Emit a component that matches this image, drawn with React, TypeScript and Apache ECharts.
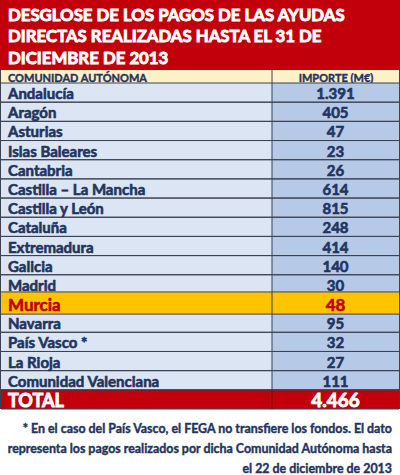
import React, { useEffect, useRef } from "react";
import * as echarts from "echarts";

const titleLines = [
  "DESGLOSE DE LOS PAGOS DE LAS AYUDAS",
  "DIRECTAS REALIZADAS HASTA EL 31 DE",
  "DICIEMBRE DE 2013",
];
const headerLabels = ["COMUNIDAD AUTÓNOMA", "IMPORTE (M€)"];
const regions = [
  "Andalucía",
  "Aragón",
  "Asturias",
  "Islas Baleares",
  "Cantabria",
  "Castilla – La Mancha",
  "Castilla y León",
  "Cataluña",
  "Extremadura",
  "Galicia",
  "Madrid",
  "Murcia",
  "Navarra",
  "País Vasco *",
  "La Rioja",
  "Comunidad Valenciana",
];
const amounts = [1391, 405, 47, 23, 26, 614, 815, 248, 414, 140, 30, 48, 95, 32, 27, 111];
const totalLabel = "TOTAL";
const totalAmount = 4466;
const highlighted = "Murcia";
const footnoteLines = [
  "* En el caso del País Vasco, el FEGA no transfiere los fondos. El dato",
  "representa los pagos realizados por dicha Comunidad Autónoma hasta",
  "el 22 de diciembre de 2013",
];

const RED = "#c2000b";
const NAVY = "#1f3560";
const LEFT_BG = "#dce5f3";
const RIGHT_BG = "#b6c9e7";
const HEAD_BG = "#fdf1c8";
const GOLD = "#fec400";
const LINE = "#3c4250";
const FONT = "Lato, 'Open Sans', sans-serif";

function fmt(n: number): string {
  return String(n).replace(/\B(?=(\d{3})+(?!\d))/g, ".");
}

function heavy(color: string, size: number, lw: number) {
  return {
    fill: color,
    stroke: color,
    lineWidth: lw,
    fontFamily: FONT,
    fontWeight: "bold",
    fontSize: size,
  };
}

export default function App() {
  const ref = useRef<HTMLDivElement>(null);
  useEffect(() => {
    if (!ref.current) return;
    const chart = echarts.init(ref.current, undefined, { renderer: "svg" });
    const cats = [...regions, totalLabel];
    const vals = [...amounts, totalAmount];
    const DIV = 271 / 398;

    const renderItem = (params: any, api: any) => {
      const idx = api.value(1);
      const cs = params.coordSys;
      const yc = api.coord([0, idx])[1];
      let h = api.size([0, 1])[1];
      let top = yc - h / 2;
      const isTotal = idx === cats.length - 1;
      const isHi = cats[idx] === highlighted;
      if (isHi) {
        top -= 2;
        h += 3;
      }
      const x0 = cs.x;
      const w = cs.width;
      const xd = x0 + w * DIV;
      const leftFill = isTotal ? RED : isHi ? GOLD : LEFT_BG;
      const rightFill = isTotal ? RED : isHi ? GOLD : RIGHT_BG;
      const txtFill = isTotal ? "#ffffff" : isHi ? "#c0000a" : NAVY;
      const fs = isTotal ? 18 : isHi ? 17 : 15;
      const z2 = isHi ? 10 : 1;
      return {
        type: "group",
        children: [
          { type: "rect", z2, shape: { x: x0, y: top, width: xd - x0, height: h }, style: { fill: leftFill } },
          { type: "rect", z2, shape: { x: xd, y: top, width: x0 + w - xd, height: h }, style: { fill: rightFill } },
          { type: "line", z2: z2 + 1, shape: { x1: x0, y1: top + h, x2: x0 + w, y2: top + h }, style: { stroke: LINE, lineWidth: 1 } },
          { type: "line", z2: z2 + 1, shape: { x1: x0, y1: top, x2: x0 + w, y2: top }, style: { stroke: LINE, lineWidth: 1 } },
          { type: "line", z2: z2 + 1, shape: { x1: xd, y1: top, x2: xd, y2: top + h }, style: { stroke: isTotal ? "#7a0008" : LINE, lineWidth: 1 } },
          {
            type: "text",
            z2: z2 + 2,
            style: {
              text: cats[idx],
              x: x0 + 7,
              y: yc + 0.5,
              ...heavy(txtFill, fs, isTotal ? 0.9 : 0.6),
              align: "left",
              verticalAlign: "middle",
            },
          },
          {
            type: "text",
            z2: z2 + 2,
            style: {
              text: fmt(vals[idx]),
              x: (xd + x0 + w) / 2,
              y: yc + 0.5,
              ...heavy(txtFill, isTotal ? 19 : fs, isTotal ? 0.9 : 0.6),
              align: "center",
              verticalAlign: "middle",
            },
          },
        ],
      };
    };

    const titleY = [14, 35.5, 57];
    const footY = [428, 448, 468];

    chart.setOption({
      animation: false,
      grid: { left: 1, right: 1, top: 83, bottom: 66 },
      xAxis: { type: "value", min: 0, max: 1, show: false },
      yAxis: { type: "category", data: cats, inverse: true, show: false },
      series: [
        {
          type: "custom",
          renderItem,
          data: vals.map((v, i) => [v, i]),
          encode: { x: 0, y: 1 },
          clip: false,
        },
      ],
      graphic: [
        { type: "rect", shape: { x: 0, y: 0, width: 400, height: 70 }, style: { fill: RED } },
        ...titleLines.map((t, i) => ({
          type: "text",
          x: 8,
          y: titleY[i],
          style: {
            text: t,
            ...heavy("#ffffff", 16.8, 0.9),
            align: "left",
            verticalAlign: "middle",
          },
        })),
        { type: "rect", shape: { x: 1, y: 70, width: 398, height: 13 }, style: { fill: HEAD_BG } },
        { type: "line", shape: { x1: 272, y1: 70, x2: 272, y2: 83 }, style: { stroke: LINE, lineWidth: 1 } },
        {
          type: "text",
          x: 8,
          y: 77,
          style: { text: headerLabels[0], ...heavy(NAVY, 11, 0.4), align: "left", verticalAlign: "middle" },
        },
        {
          type: "text",
          x: 336,
          y: 77,
          style: { text: headerLabels[1], ...heavy(NAVY, 11, 0.4), align: "center", verticalAlign: "middle" },
        },
        { type: "line", shape: { x1: 0.5, y1: 70, x2: 0.5, y2: 409 }, style: { stroke: LINE, lineWidth: 1 } },
        { type: "line", shape: { x1: 399.5, y1: 70, x2: 399.5, y2: 409 }, style: { stroke: LINE, lineWidth: 1 } },
        ...footnoteLines.map((t, i) => ({
          type: "text",
          x: 392,
          y: footY[i],
          style: {
            text: t,
            ...heavy(NAVY, 12.4, 0.4),
            align: "right",
            verticalAlign: "middle",
          },
        })),
      ],
    });
    return () => chart.dispose();
  }, []);
  return (
    <div
      ref={ref}
      style={{ position: "fixed", left: 0, top: 0, width: 400, height: 475, background: "#ffffff" }}
    />
  );
}
